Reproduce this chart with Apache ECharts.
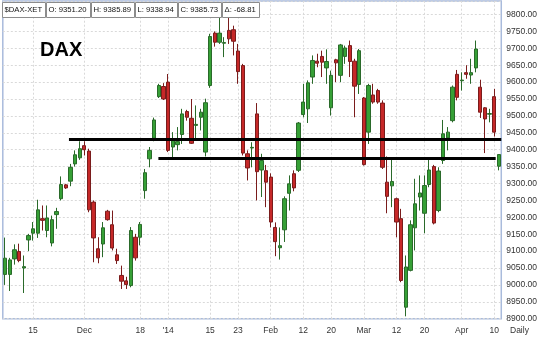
<!DOCTYPE html>
<html><head><meta charset="utf-8">
<script src="https://cdn.jsdelivr.net/npm/echarts@6/dist/echarts.min.js"></script>
<style>html,body{margin:0;padding:0;background:#fff}#c{width:540px;height:337px}</style>
</head><body><div id="c"></div>
<script>
const dates = [
'2013-11-07','2013-11-08','2013-11-11','2013-11-12','2013-11-13','2013-11-14','2013-11-15','2013-11-18','2013-11-19','2013-11-20','2013-11-21','2013-11-22','2013-11-25','2013-11-26','2013-11-27','2013-11-28','2013-11-29',
'2013-12-02','2013-12-03','2013-12-04','2013-12-05','2013-12-06','2013-12-09','2013-12-10','2013-12-11','2013-12-12','2013-12-13','2013-12-16','2013-12-17','2013-12-18','2013-12-19','2013-12-20','2013-12-23','2013-12-27','2013-12-30',
'2014-01-02','2014-01-03','2014-01-06','2014-01-07','2014-01-08','2014-01-09','2014-01-10','2014-01-13','2014-01-14','2014-01-15','2014-01-16','2014-01-17','2014-01-20','2014-01-21','2014-01-22','2014-01-23','2014-01-24','2014-01-27','2014-01-28','2014-01-29','2014-01-30','2014-01-31',
'2014-02-03','2014-02-04','2014-02-05','2014-02-06','2014-02-07','2014-02-10','2014-02-11','2014-02-12','2014-02-13','2014-02-14','2014-02-17','2014-02-18','2014-02-19','2014-02-20','2014-02-21','2014-02-24','2014-02-25','2014-02-26','2014-02-27','2014-02-28',
'2014-03-03','2014-03-04','2014-03-05','2014-03-06','2014-03-07','2014-03-10','2014-03-11','2014-03-12','2014-03-13','2014-03-14','2014-03-17','2014-03-18','2014-03-19','2014-03-20','2014-03-21','2014-03-24','2014-03-25','2014-03-26','2014-03-27','2014-03-28','2014-03-31',
'2014-04-01','2014-04-02','2014-04-03','2014-04-04','2014-04-07','2014-04-08','2014-04-09','2014-04-10','2014-04-11'];

const opens = [
9031,9031,9077,9099,9050,9133,9153,9153,9196,9161,9124,9208,9255,9296,9307,9358,9376,
9412,9396,9245,9107,9121,9218,9178,9089,9028,9012,8998,9141,9141,9279,9373,9434,9557,9587,
9600,9408,9415,9445,9513,9493,9472,9496,9393,9590,9745,9718,9715,9753,9755,9692,9649,9388,9405,9506,9340,9338,
9319,9170,9110,9163,9271,9329,9339,9504,9521,9615,9662,9676,9642,9524,9666,9620,9676,9708,9662,9593,
9553,9452,9562,9575,9538,9304,9293,9255,9196,8934,9043,9169,9260,9212,9297,9350,9220,9368,9435,9486,9623,
9604,9628,9621,9642,9585,9524,9505,9557,9351.20];

const closes = [
9079,9074,9104,9072,9054,9146,9166,9222,9191,9198,9193,9217,9297,9287,9348,9385,9403,
9400,9222,9139,9080,9169,9193,9109,9072,9011,9001,9161,9080,9179,9332,9398,9488,9590,9550,
9398,9427,9424,9506,9496,9419,9475,9511,9539,9735,9718,9745,9717,9728,9721,9631,9390,9346,9407,9335,9368,9304,
9186,9128,9116,9255,9299,9287,9479,9541,9598,9664,9656,9659,9661,9620,9657,9710,9701,9661,9588,9693,
9356,9590,9541,9541,9348,9262,9306,9186,9013,9053,9178,9240,9272,9294,9340,9183,9337,9447,9452,9585,9555,
9606,9623,9628,9698,9511,9491,9507,9452,9385.73];

const lows = [
9000,8982,9060,9067,8976,9100,9131,9139,9161,9141,9114,9166,9250,9284,9292,9350,9370,
9383,9215,9067,9064,9082,9190,9102,9062,8988,8988,8993,9072,9117,9255,9348,9425,9553,9547,
9393,9378,9398,9417,9486,9417,9432,9457,9380,9583,9705,9713,9674,9713,9679,9595,9383,9309,9348,9250,9260,9230,
9170,9085,9075,9127,9220,9277,9334,9496,9479,9595,9644,9615,9595,9501,9600,9600,9654,9615,9496,9565,
9353,9417,9536,9536,9343,9212,9230,9141,9008,8907,9040,9102,9220,9153,9289,9179,9215,9358,9398,9481,9546,
9575,9610,9595,9629,9494,9390,9481,9439,9338.94];

const highs = [
9140,9080,9120,9122,9087,9151,9186,9252,9235,9235,9205,9228,9321,9299,9358,9398,9425,
9425,9403,9250,9141,9186,9222,9220,9107,9057,9024,9171,9151,9186,9343,9408,9495,9595,9597,
9624,9452,9467,9521,9518,9550,9531,9521,9551,9743,9750,9792,9733,9797,9767,9713,9654,9398,9422,9538,9388,9355,
9330,9185,9170,9262,9324,9339,9482,9595,9605,9679,9684,9693,9697,9634,9669,9713,9708,9723,9669,9698,
9556,9595,9595,9580,9546,9380,9378,9258,9225,9087,9191,9314,9324,9324,9370,9355,9348,9488,9467,9590,9636,
9629,9650,9669,9723,9607,9526,9521,9580,9385.89];

const tickDates  = ['2013-11-15','2013-12-02','2013-12-18','2014-01-02','2014-01-15','2014-01-23','2014-02-03','2014-02-12','2014-02-20','2014-03-03','2014-03-12','2014-03-20','2014-04-01','2014-04-10'];
const tickLabels = ['15','Dec','18',"'14",'15','23','Feb','12','20','Mar','12','20','Apr','10'];

// support / resistance lines: [start index, end index, level]
const upperLine = [13.7, 106.5, 9430];
const lowerLine = [32.9, 105.3, 9374];

const symbol = '$DAX-XET';
const lastPrice = 9385.89;
const change = -68.81;

const chart = echarts.init(document.getElementById('c'), null, {renderer: 'canvas'});
const candleData = dates.map((d, i) => [opens[i], closes[i], lows[i], highs[i]]);
const labelMap = {};
tickDates.forEach((d, k) => { labelMap[d] = tickLabels[k]; });
const n = dates.length - 1;

const headerItems = [
  symbol,
  'O: ' + opens[n].toFixed(2),
  'H: ' + highs[n].toFixed(2),
  'L: ' + lows[n].toFixed(2),
  'C: ' + closes[n].toFixed(2),
  '\u0394: ' + change.toFixed(2)
];
const headerFont = '7.7px "Liberation Sans", Arial, sans-serif';
const mctx = document.createElement('canvas').getContext('2d');
mctx.font = headerFont;
const header = [];
let hx = 2;
headerItems.forEach((t) => {
  const w = Math.ceil(mctx.measureText(t).width) + 5;
  header.push({type: 'rect', left: hx, top: 2, shape: {width: w, height: 15},
    style: {fill: '#fff', stroke: '#8c8c8c', lineWidth: 1}, z: 10});
  header.push({type: 'text', left: hx + 2.5, top: 5.5,
    style: {text: t, fill: '#111', font: headerFont}, z: 11});
  hx += w + 1;
});

const option = {
  animation: false,
  backgroundColor: '#fff',
  grid: {left: 2.8, right: 38, top: 1, bottom: 18.3, show: true, borderColor: '#a9bbdc', borderWidth: 1.5, backgroundColor: '#fff'},
  xAxis: [
    {type: 'category', data: dates, boundaryGap: true,
     axisLine: {show: false}, axisTick: {show: false}, splitLine: {show: false},
     axisLabel: {interval: (idx, v) => labelMap[v] !== undefined, formatter: v => labelMap[v] || '',
       color: '#333', fontSize: 8.5, fontFamily: '"Liberation Sans", Arial, sans-serif', margin: 7}},
    {type: 'value', min: -0.5, max: dates.length - 0.5, show: false}
  ],
  yAxis: {type: 'value', position: 'right', min: 8900, max: 9840, interval: 50,
    axisLine: {show: false}, axisTick: {show: false},
    axisLabel: {formatter: v => v.toFixed(2), color: '#333', fontSize: 8.5, fontFamily: '"Liberation Sans", Arial, sans-serif', margin: 5, showMaxLabel: false},
    splitLine: {show: true, lineStyle: {color: '#d9d9d9', type: [2, 2], width: 1}}},
  graphic: header.concat([
    {type: 'text', left: 40, top: 40, style: {text: 'DAX', fill: '#000', font: 'bold 20px "Liberation Sans", Arial, sans-serif'}, z: 10},
    {type: 'text', left: 510, top: 326, style: {text: 'Daily', fill: '#333', font: '8.5px "Liberation Sans", Arial, sans-serif'}, z: 10}
  ]),
  series: [
    {type: 'line', name: 'vgrid', data: [], xAxisIndex: 0, z: 1, silent: true,
     markLine: {z: 1, silent: true, symbol: ['none', 'none'], animation: false,
       label: {show: false}, lineStyle: {color: '#d9d9d9', type: [2, 2], width: 1},
       data: tickDates.map(d => ({xAxis: d}))}},
    {type: 'candlestick', name: 'DAX', data: candleData, xAxisIndex: 0, z: 3,
     barWidth: 3.8,
     itemStyle: {color: '#36a036', color0: '#c62828', borderColor: '#2a6a2a', borderColor0: '#7a1c1c', borderWidth: 1},
     markLine: {z: 6, silent: true, symbol: ['none', 'none'], animation: false,
       data: [{yAxis: lastPrice, lineStyle: {opacity: 0},
         label: {show: true, position: 'end', distance: 1, formatter: lastPrice.toFixed(2),
           backgroundColor: '#000', color: '#fff', fontSize: 8.5, fontFamily: '"Liberation Sans", Arial, sans-serif', padding: [2, 3, 1, 3]}}]}},
    {type: 'line', name: 'upper', xAxisIndex: 1, z: 5, symbol: 'none', silent: true,
     lineStyle: {color: '#000', width: 3},
     data: [[upperLine[0], upperLine[2]], [upperLine[1], upperLine[2]]]},
    {type: 'line', name: 'lower', xAxisIndex: 1, z: 5, symbol: 'none', silent: true,
     lineStyle: {color: '#000', width: 3},
     data: [[lowerLine[0], lowerLine[2]], [lowerLine[1], lowerLine[2]]]}
  ]
};
chart.setOption(option);
</script>
</body></html>
